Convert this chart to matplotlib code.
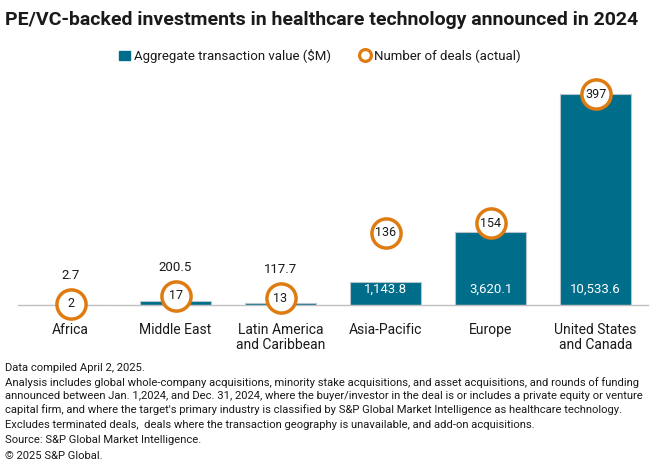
import numpy as np
import matplotlib.pyplot as plt
from matplotlib.patches import Patch
from matplotlib.lines import Line2D

plt.rcParams['font.family'] = ['Roboto', 'DejaVu Sans']

# Дані
regions = ['Africa', 'Middle East', 'Latin America\nand Caribbean',
           'Asia-Pacific', 'Europe', 'United States\nand Canada']
value_musd = [2.7, 200.5, 117.7, 1143.8, 3620.1, 10533.6]
deals = [2, 17, 13, 136, 154, 397]
value_labels = ['2.7', '200.5', '117.7', '1,143.8', '3,620.1', '10,533.6']

bar_color = '#006D8A'
ring_color = '#DE7C12'
text_color = '#1A1A1A'

fig = plt.figure(figsize=(6.6, 4.75), dpi=100)
ax = fig.add_axes([18 / 660, 170 / 475, 630 / 660, 230 / 475])
ax2 = ax.twinx()

x = np.arange(len(regions))
ax.bar(x, value_musd, width=0.667, color=bar_color, edgecolor='#B8C4CC', linewidth=0.8)
ax.set_xlim(-0.5, len(regions) - 0.5)
ax.set_ylim(0, max(value_musd) * 230 / 211)
ax2.set_ylim(0, max(deals) * 230 / 211)

ax2.plot(x, deals, linestyle='none', marker='o', markersize=21, clip_on=False,
         markerfacecolor='white', markeredgecolor=ring_color, markeredgewidth=2.5)

for xi, v, d, lab in zip(x, value_musd, deals, value_labels):
    if v > 1000:
        ax.annotate(lab, (xi, 0), xytext=(0, 11), textcoords='offset points',
                    ha='center', va='center', color='white', fontsize=9.5)
    else:
        ax2.annotate(lab, (xi, d), xytext=(0, 20.5), textcoords='offset points',
                     ha='center', va='center', color=text_color, fontsize=9.5)
    ax2.text(xi, d, str(d), ha='center', va='center', color=text_color, fontsize=9)

for a in (ax, ax2):
    for s in ['top', 'left', 'right']:
        a.spines[s].set_visible(False)
    a.set_yticks([])
ax2.spines['bottom'].set_visible(False)
ax.spines['bottom'].set_color('#BFBFBF')
ax.spines['bottom'].set_linewidth(1)
ax.set_xticks(x)
ax.set_xticklabels(regions, fontsize=10, color=text_color, linespacing=1.1)
ax.tick_params(axis='x', length=0, pad=13)

fig.text(5 / 660, 1 - 20 / 475, 'PE/VC-backed investments in healthcare technology announced in 2024',
         fontsize=14, fontweight='bold', color=text_color, va='center', ha='left')

handles = [Patch(facecolor=bar_color, edgecolor=bar_color),
           Line2D([], [], linestyle='none', marker='o', markersize=8.5,
                  markerfacecolor='white', markeredgecolor=ring_color, markeredgewidth=2.3)]
fig.legend(handles, ['Aggregate transaction value ($M)', 'Number of deals (actual)'],
           loc='center', bbox_to_anchor=(0.485, 1 - 56 / 475), ncol=2, frameon=False,
           fontsize=9.5, handlelength=0.8, handletextpad=0.3, columnspacing=2.2,
           labelcolor=text_color)

notes = [
    (368, 'Data compiled April 2, 2025.'),
    (383, 'Analysis includes global whole-company acquisitions, minority stake acquisitions, and asset acquisitions, and rounds of funding'),
    (396, 'announced between Jan. 1,2024, and Dec. 31, 2024, where the buyer/investor in the deal is or includes a private equity or venture'),
    (410, "capital firm, and where the target's primary industry is classified by S&P Global Market Intelligence as healthcare technology."),
    (425, 'Excludes terminated deals,  deals where the transaction geography is unavailable, and add-on acquisitions.'),
    (440, 'Source: S&P Global Market Intelligence.'),
    (456, '© 2025 S&P Global.'),
]
for yy, t in notes:
    fig.text(5 / 660, 1 - yy / 475, t, fontsize=8.1, color=text_color, va='center', ha='left')

fig.savefig('out.png', dpi=100)
